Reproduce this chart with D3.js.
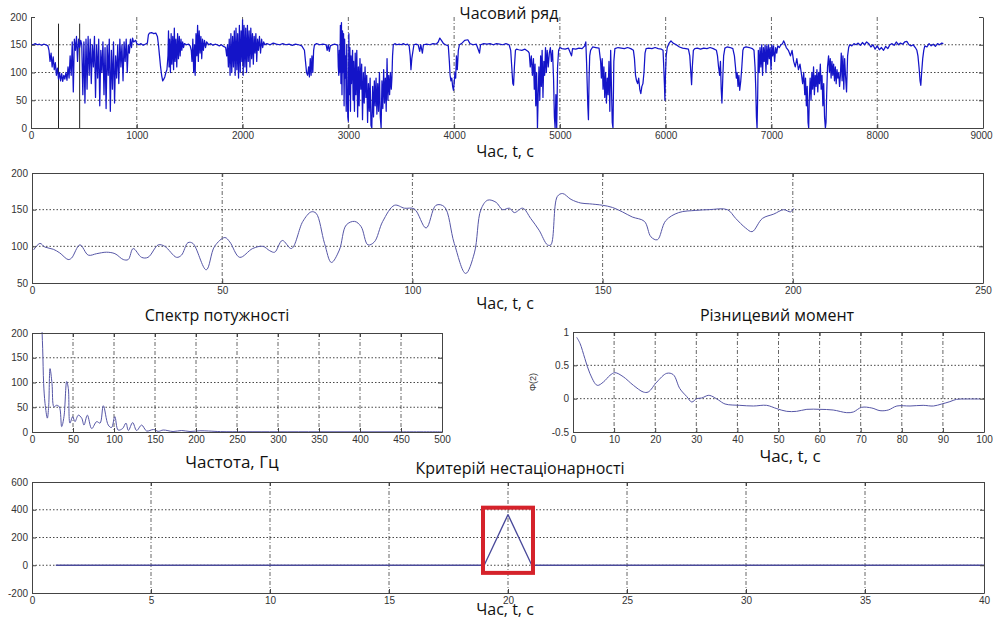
<!DOCTYPE html>
<html><head><meta charset="utf-8">
<script src="https://cdn.jsdelivr.net/npm/d3@7"></script>
<style>body{margin:0;background:#fff} svg{display:block}</style>
</head><body><svg id="c" width="993" height="621"></svg>
<script>
// ---------- DATA ----------
const timeSeries = [
[0,151],[20,150],[40,152],[60,150],[80,151],[100,149],[120,151],[140,150],[160,148],
[170,140],[180,120],[190,135],[200,110],[210,128],[220,105],[230,118],[240,95],[250,108],[260,88],[270,100],[280,85],[290,98],[300,84],[310,95],[320,88],[330,100],[340,86],[350,110],[360,90],[370,130],[380,95],[390,155],[400,65],[410,160],[420,140],[430,165],[440,120],[450,160],[460,145],[470,158],
[480,150],[490,60],[500,155],[510,45],[520,160],[530,70],[540,165],[550,95],[560,160],[570,80],[580,150],[590,110],[600,165],[610,55],[620,150],[630,90],[640,160],[650,40],[660,140],[670,100],[680,155],[690,60],[700,145],[710,35],[720,150],[730,95],[740,160],[750,30],[760,140],[770,70],[780,155],[790,45],[800,130],[810,90],[820,150],[830,80],[840,160],[850,110],[860,150],[870,85],[880,155],[890,120],[900,160],[910,100],[920,150],[930,135],[940,160],[950,145],[960,162],
[970,155],[990,158],[1000,152],[1020,150],[1040,152],[1060,149],[1080,151],[1100,153],
[1110,168],[1120,171],[1140,172],[1160,170],[1180,171],[1195,165],
[1205,150],[1215,130],[1225,110],[1235,95],[1245,85],[1255,88],[1265,92],[1275,100],[1285,105],
[1295,130],[1300,175],[1305,110],[1310,160],[1318,100],[1325,170],[1332,115],[1340,165],[1348,105],[1355,180],[1362,120],[1370,160],[1378,110],[1386,170],[1394,125],[1402,165],[1410,130],[1418,160],[1426,140],[1434,155],[1442,145],[1450,152],
[1470,150],[1490,151],[1505,148],
[1515,140],[1522,120],[1530,160],[1538,100],[1546,150],[1552,95],[1560,170],[1568,130],[1575,185],[1582,120],[1590,175],[1598,135],[1606,165],[1614,125],[1622,160],[1630,140],[1640,158],[1650,145],[1660,155],
[1680,150],[1700,152],[1720,149],[1740,151],[1760,150],[1780,148],[1800,150],[1820,147],[1840,145],
[1850,130],[1858,150],[1866,110],[1874,160],[1882,95],[1890,170],[1898,100],[1906,165],[1914,110],[1922,175],[1930,95],[1938,180],[1946,105],[1954,170],[1962,90],[1970,185],[1978,100],[1986,175],[1994,120],[2000,195],[2006,95],[2014,185],[2022,110],[2030,180],[2038,100],[2046,185],[2054,120],[2062,175],[2070,110],[2078,180],[2086,125],[2094,170],[2102,115],[2110,165],[2118,135],[2126,170],[2134,120],[2142,160],[2150,140],[2160,165],[2170,135],[2180,160],[2190,145],[2200,155],[2210,150],
[2230,152],[2260,150],[2290,153],[2320,151],[2350,150],[2380,152],[2410,150],[2440,151],[2470,149],[2500,151],[2530,150],[2560,148],
[2585,140],[2595,120],[2605,100],[2615,95],[2625,110],[2632,92],[2640,125],[2648,95],[2656,130],[2664,100],[2672,140],[2680,150],
[2700,152],[2730,150],[2760,151],[2790,150],[2800,140],[2810,150],[2820,138],[2830,148],[2850,150],[2870,151],[2890,150],
[2900,150],[2905,110],[2910,95],[2915,140],[2920,100],[2925,185],[2930,80],[2935,190],[2940,60],[2945,175],[2950,100],[2955,170],[2960,40],[2965,160],[2970,90],[2975,130],[2980,30],[2985,150],[2990,70],[2995,20],[3000,12],[3005,170],[3010,60],[3015,145],[3020,30],[3025,130],[3030,80],[3040,140],[3045,50],[3050,120],[3058,30],[3065,135],[3072,60],[3080,140],[3088,20],[3095,110],[3102,40],[3110,125],[3118,70],[3126,115],[3134,15],[3142,100],[3150,45],[3158,110],[3166,55],[3174,95],[3182,10],[3190,80],[3198,30],[3206,90],[3214,5],[3222,0],[3230,75],[3238,20],[3246,85],[3254,40],[3262,90],[3270,25],[3278,80],[3286,30],[3294,100],[3302,20],[3310,0],[3318,85],[3326,35],[3334,105],[3342,45],[3350,90],[3358,30],[3366,125],[3374,50],[3382,95],[3390,60],[3398,100],[3406,70],[3412,90],[3418,130],[3425,150],
[3440,152],[3460,150],[3480,151],[3500,150],[3520,152],[3540,150],[3560,151],[3575,148],
[3585,130],[3592,105],[3600,125],[3608,135],[3620,150],
[3640,151],[3660,150],[3675,138],[3685,150],[3700,135],[3710,150],[3740,151],[3770,150],[3800,152],[3830,151],[3850,155],[3865,162],[3880,158],[3900,152],[3920,150],[3945,148],
[3955,120],[3962,95],[3970,85],[3978,90],[3986,75],[3994,68],[4000,80],[4008,100],[4015,90],[4022,130],[4030,105],[4040,140],[4050,150],
[4070,152],[4100,158],[4130,159],[4150,152],[4180,150],[4210,151],[4240,135],[4250,150],[4280,152],[4310,151],[4340,152],[4370,150],[4400,152],[4430,151],[4460,150],[4490,152],[4520,150],
[4535,140],[4545,110],[4555,80],[4562,77],[4570,110],[4580,140],[4590,142],
[4610,141],[4640,140],[4670,142],[4700,138],
[4710,135],[4720,110],[4730,130],[4740,95],[4750,125],[4758,70],[4765,115],[4772,40],[4780,100],[4788,0],[4795,60],[4802,110],[4810,50],[4818,130],[4825,75],[4832,140],[4840,55],[4848,120],[4856,95],[4864,145],[4872,100],[4880,140],[4890,110],[4900,135],[4910,145],[4920,120],[4930,140],[4940,90],[4948,20],[4955,0],[4962,60],[4970,0],[4978,110],[4988,140],[5000,145],
[5020,143],[5050,142],[5080,144],[5110,130],[5120,143],[5150,142],[5180,144],[5210,143],[5235,148],
[5245,155],[5252,120],[5258,80],[5264,40],[5270,15],[5276,90],[5282,130],[5290,140],
[5310,146],[5340,145],[5370,144],
[5385,120],[5392,90],[5400,125],[5408,70],[5416,110],[5424,55],[5432,100],[5440,45],[5448,90],[5456,60],[5464,120],[5472,30],[5480,140],[5488,70],[5495,10],[5502,0],[5510,120],[5520,143],
[5550,145],[5580,144],[5610,143],[5640,145],[5670,143],[5695,140],
[5705,125],[5715,95],[5725,85],[5735,80],[5745,90],[5755,70],[5765,62],[5775,75],[5785,80],[5795,100],[5805,135],[5815,143],
[5840,144],[5870,143],[5900,145],[5930,143],[5960,142],[5975,140],
[5982,110],[5988,80],[5993,50],[5998,95],[6005,130],[6015,145],
[6030,152],[6050,157],[6070,153],[6100,150],[6130,146],[6160,144],[6190,143],[6215,142],
[6228,130],[6238,100],[6245,78],[6252,110],[6262,140],[6275,143],
[6300,144],[6330,142],[6360,144],[6390,143],[6420,145],[6450,143],[6480,140],
[6490,130],[6500,110],[6510,95],[6518,120],[6525,70],[6532,45],[6540,90],[6548,130],[6560,144],
[6580,146],[6610,145],[6635,143],
[6650,130],[6660,110],[6668,90],[6676,100],[6684,75],[6692,95],[6700,68],[6710,85],[6720,110],[6730,140],[6740,145],
[6760,146],[6790,145],[6820,143],[6835,140],
[6845,110],[6852,70],[6858,20],[6864,0],[6870,60],[6876,140],
[6884,100],[6892,145],[6900,110],[6908,150],[6916,95],[6924,145],[6932,120],[6940,150],[6948,100],[6956,148],[6964,115],[6972,150],[6980,125],[6988,145],[6996,105],[7004,150],[7012,130],[7020,148],[7030,120],[7040,145],[7050,135],[7060,148],[7075,145],[7090,150],
[7105,152],[7115,157],[7125,153],[7140,145],[7160,140],[7180,130],[7195,140],[7210,120],[7225,110],[7240,125],[7255,105],[7270,115],[7285,95],
[7295,80],[7305,100],[7315,60],[7322,90],[7330,40],[7338,75],[7346,10],[7352,0],[7358,55],[7366,90],[7374,50],[7382,100],[7390,70],[7398,110],[7406,60],[7414,95],[7422,75],[7430,105],[7438,65],[7446,100],[7454,80],[7462,115],[7470,70],[7478,95],[7486,40],[7494,80],[7502,20],[7510,0],[7516,10],[7522,60],[7530,110],
[7540,130],[7548,100],[7556,125],[7564,90],[7572,120],[7580,95],[7588,115],[7596,85],[7604,110],[7612,80],[7620,105],[7628,90],[7636,100],[7644,75],[7652,95],[7660,135],[7668,85],[7676,130],[7684,70],[7692,125],[7700,95],[7710,65],[7720,130],[7730,145],[7740,150],
[7760,148],[7780,152],[7800,150],[7820,153],[7840,149],[7860,154],[7880,150],[7900,155],[7920,152],[7940,146],[7960,150],[7980,142],[8000,148],[8020,141],[8040,145],[8060,140],[8080,147],[8100,143],[8120,150],[8140,152],[8160,149],[8180,155],[8200,150],[8220,153],[8240,151],[8260,155],[8280,156],[8300,150],[8320,148],[8340,150],[8360,145],[8375,140],
[8385,130],[8395,110],[8405,85],[8412,77],[8420,100],[8430,125],[8440,140],[8450,148],
[8470,146],[8490,152],[8510,148],[8530,151],[8550,147],[8570,152],[8590,150],[8610,153],[8625,152]
];
const markerTimes = [260, 460];
const markerTop = 188;

const windowSeries = [[0.4,95],[2.1,104],[3.4,99],[5.6,96],[7.3,91],[9.5,82],[10.4,84],[12.6,102],[14.8,88],[17,90],[19.6,92],[21.8,90],[24,82],[25.3,82],[26.6,97],[28.8,85],[30.5,85],[33.2,102],[34.9,100],[38,85],[39.3,88],[41,105],[42.3,104],[45.8,68],[48,100],[50.7,112],[52,106],[54.6,85],[58,97],[60.7,100],[62.5,94],[63.8,92],[65.8,108],[68.2,97],[71.2,134],[73.4,147],[74.7,145],[76.9,104],[78.7,78],[80.8,95],[82.6,129],[84.8,134],[86.5,127],[88.3,102],[90,106],[92.2,134],[95.3,156],[97.9,152],[100.5,151],[103.6,125],[106.2,156],[108.4,154],[111,104],[114,63],[116.3,91],[118,150],[119.8,163],[122,160],[123.7,150],[125.5,152],[126.8,146],[129,152],[131.1,138],[133.3,122],[135.5,102],[136.4,102],[138.1,168],[139.5,172],[141.7,164],[144.3,159],[146.5,158],[150,156],[152.6,153],[155.2,147],[157.8,140],[161,134],[162.7,113],[164.4,109],[166.6,135],[170,146],[174.5,149],[178,150],[182.8,150],[185,138],[187.6,125],[189.3,120],[192,138],[195,144],[197.6,150],[199.4,147],[200.3,152]];

const spectrum = [[10,260],[11.5,230],[13,169],[14.2,98],[15.9,58],[18.7,28],[20.3,51],[22,128],[24.4,98],[26.8,51],[30,54],[33.3,51],[36.2,11],[39,31],[42.3,102],[44.3,88],[46.3,18],[49.6,31],[52.4,21],[56.5,34],[60.6,28],[63.4,14],[67.5,34],[72.8,7],[78.9,21],[83,18],[87,53],[93,14],[97,9],[101,31],[105,4],[110.5,7],[114.6,18],[117.5,3],[122.8,19],[127.6,3],[133.7,14],[139.8,2],[148,5],[154,1.3],[160,4],[172,1],[182.5,3],[192.7,1],[205,2.5],[215,2],[230,0.8],[260,0.6],[300,0.5],[350,0.5],[400,0.4],[450,0.4],[500,0.4]];

const diffMoment = [[0.9,0.92],[1.7,0.83],[2.9,0.6],[4.1,0.38],[5.9,0.2],[7.4,0.25],[9,0.35],[10.2,0.39],[12.2,0.33],[14.7,0.2],[17.1,0.1],[18.3,0.1],[20.4,0.25],[22.8,0.38],[24.4,0.36],[26,0.15],[27.7,0.03],[28.9,-0.05],[30.1,0],[31.3,0.01],[32.9,0.05],[33.7,0.04],[35.4,-0.02],[37,-0.08],[40.6,-0.1],[43.9,-0.11],[47.1,-0.1],[49.6,-0.15],[52,-0.19],[54.4,-0.19],[56.9,-0.16],[60.1,-0.16],[63.3,-0.17],[66.6,-0.21],[68.2,-0.2],[70.2,-0.13],[72.7,-0.14],[74.7,-0.18],[76.7,-0.17],[78.8,-0.11],[82,-0.11],[85.2,-0.1],[87.7,-0.11],[89.7,-0.08],[91.7,-0.045],[93.3,-0.01],[95.8,-0.005],[99,-0.005]];

const critTimes  = [1,2,3,4,5,6,7,8,9,10,11,12,13,14,15,16,17,18,19,20,21,22,23,24,25,26,27,28,29,30,31,32,33,34,35,36,37,38,39,40];
const critValues = [0,0,0,0,0,0,0,0,0,0,0,0,0,0,0,0,0,0,0,365,0,0,0,0,0,0,0,0,0,0,0,0,0,0,0,0,0,0,0,0];
const highlightBox = {x0: 18.95, x1: 21.05, y0: -55, y1: 415};

const ticks1x = [0,1000,2000,3000,4000,5000,6000,7000,8000,9000], ticks1y = [0,50,100,150,200];
const ticks2x = [0,50,100,150,200,250], ticks2y = [50,100,150,200];
const ticks3x = [0,50,100,150,200,250,300,350,400,450,500], ticks3y = [0,50,100,150,200];
const ticks4x = [0,10,20,30,40,50,60,70,80,90,100], ticks4y = [-0.5,0,0.5,1];
const ticks5x = [0,5,10,15,20,25,30,35,40], ticks5y = [-200,0,200,400,600];

// ---------- DRAWING ----------
const svg = d3.select("#c");
const FONT = "'Open Sans', 'Noto Sans', sans-serif";
const TICKFONT = "'Liberation Sans', Arial, sans-serif";
let clipN = 0;

function panel(o){
  const x = d3.scaleLinear().domain(o.xd).range([o.l, o.r]);
  const y = d3.scaleLinear().domain(o.yd).range([o.b, o.t]);
  const g = svg.append("g");
  const inner = (arr, lo, hi) => arr.filter(v => v > lo && v < hi);
  g.selectAll(null).data(inner(o.xt, o.xd[0], o.xd[1])).enter().append("line")
    .attr("x1", d => x(d)).attr("x2", d => x(d)).attr("y1", o.t).attr("y2", o.b)
    .attr("stroke", "#555").attr("stroke-width", 0.9).attr("stroke-dasharray", "4,2,1,2");
  g.selectAll(null).data(inner(o.yt, o.yd[0], o.yd[1])).enter().append("line")
    .attr("y1", d => y(d)).attr("y2", d => y(d)).attr("x1", o.l).attr("x2", o.r)
    .attr("stroke", "#333").attr("stroke-width", 0.9).attr("stroke-dasharray", "1.5,2");
  const id = "clip" + (clipN++);
  svg.append("clipPath").attr("id", id).append("rect")
    .attr("x", o.l).attr("y", o.t - 1).attr("width", o.r - o.l).attr("height", o.b - o.t + 1);
  const dg = g.append("g").attr("clip-path", `url(#${id})`);
  const fmt = d => String(d);
  const styleAxis = sel => {
    sel.select(".domain").attr("stroke", "#444");
    sel.selectAll(".tick line").attr("stroke", "#444");
    sel.selectAll("text").attr("font-family", TICKFONT).attr("font-size", 10).attr("fill", "#333");
  };
  const xa = g.append("g").attr("transform", `translate(0,${o.b})`)
    .call(d3.axisBottom(x).tickValues(o.xt).tickFormat(fmt).tickSizeInner(-4).tickSizeOuter(0).tickPadding(4))
    .call(styleAxis);
  if (o.lastShift) xa.selectAll(".tick:last-of-type text").attr("dx", o.lastShift);
  g.append("g").attr("transform", `translate(${o.l},0)`)
    .call(d3.axisLeft(y).tickValues(o.yt).tickFormat(fmt).tickSizeInner(-4).tickSizeOuter(0).tickPadding(4))
    .call(styleAxis);
  g.append("g").attr("transform", `translate(${o.r},0)`)
    .call(d3.axisRight(y).tickValues(o.yt).tickFormat("").tickSizeInner(-4).tickSizeOuter(0))
    .call(styleAxis);
  if (!o.noTop) {
    g.append("g").attr("transform", `translate(0,${o.t})`)
      .call(d3.axisTop(x).tickValues(o.xt).tickFormat("").tickSizeInner(-4).tickSizeOuter(0))
      .call(styleAxis);
  }
  return {x, y, dg, g};
}

function drawLine(p, data, color, w, curve){
  p.dg.append("path").datum(data)
    .attr("d", d3.line().curve(curve || d3.curveLinear).x(d => p.x(d[0])).y(d => p.y(d[1])))
    .attr("fill", "none").attr("stroke", color).attr("stroke-width", w).attr("stroke-linejoin", "round");
}

function label(txt, x, y, size){
  svg.append("text").attr("x", x).attr("y", y).attr("text-anchor", "middle")
    .attr("font-family", FONT).attr("font-size", size || 16).attr("fill", "#111").text(txt);
}

// Panel 1
const p1 = panel({l:31, r:983, t:17, b:128, xd:[0,9000], yd:[0,200], xt:ticks1x, yt:ticks1y, noTop:true, lastShift:-2});
p1.dg.selectAll(null).data(markerTimes).enter().append("line")
  .attr("x1", d => p1.x(d)).attr("x2", d => p1.x(d)).attr("y1", p1.y(0)).attr("y2", p1.y(markerTop))
  .attr("stroke", "#222").attr("stroke-width", 1);
drawLine(p1, timeSeries, "#1414c8", 1.25);
label("Часовий ряд", 509, 19);
label("Час, t, с", 505, 157);

// Panel 2
const p2 = panel({l:32, r:983, t:173, b:283, xd:[0,250], yd:[50,200], xt:ticks2x, yt:ticks2y});
drawLine(p2, windowSeries, "#5656a6", 1, d3.curveCatmullRom.alpha(0.5));
label("Час, t, с", 505, 309);

// Panel 3
const p3 = panel({l:32, r:442, t:333, b:432, xd:[0,500], yd:[0,200], xt:ticks3x, yt:ticks3y});
drawLine(p3, spectrum, "#5656a6", 1, d3.curveCatmullRom.alpha(0.5));
label("Спектр потужності", 217, 321);
label("Частота, Гц", 232, 468, 17);

// Panel 4
const p4 = panel({l:573, r:984, t:332, b:432, xd:[0,100], yd:[-0.5,1], xt:ticks4x, yt:ticks4y});
drawLine(p4, diffMoment, "#5656a6", 1, d3.curveCatmullRom.alpha(0.5));
label("Різницевий момент", 777, 321);
label("Час, t, с", 790, 462, 17);
svg.append("text").attr("transform", "translate(536,382) rotate(-90)").attr("text-anchor", "middle")
  .attr("font-family", TICKFONT).attr("font-size", 9).attr("fill", "#333").text("Φ(2)");

// Panel 5
const p5 = panel({l:32, r:984, t:482, b:593, xd:[0,40], yd:[-200,600], xt:ticks5x, yt:ticks5y});
drawLine(p5, critTimes.map((t, i) => [t, critValues[i]]), "#4a4a9a", 1.3);
svg.append("rect")
  .attr("x", p5.x(highlightBox.x0)).attr("y", p5.y(highlightBox.y1))
  .attr("width", p5.x(highlightBox.x1) - p5.x(highlightBox.x0))
  .attr("height", p5.y(highlightBox.y0) - p5.y(highlightBox.y1))
  .attr("fill", "none").attr("stroke", "#d5222b").attr("stroke-width", 4);
label("Критерій нестаціонарності", 520, 474);
label("Час, t, с", 505, 615);
</script></body></html>
